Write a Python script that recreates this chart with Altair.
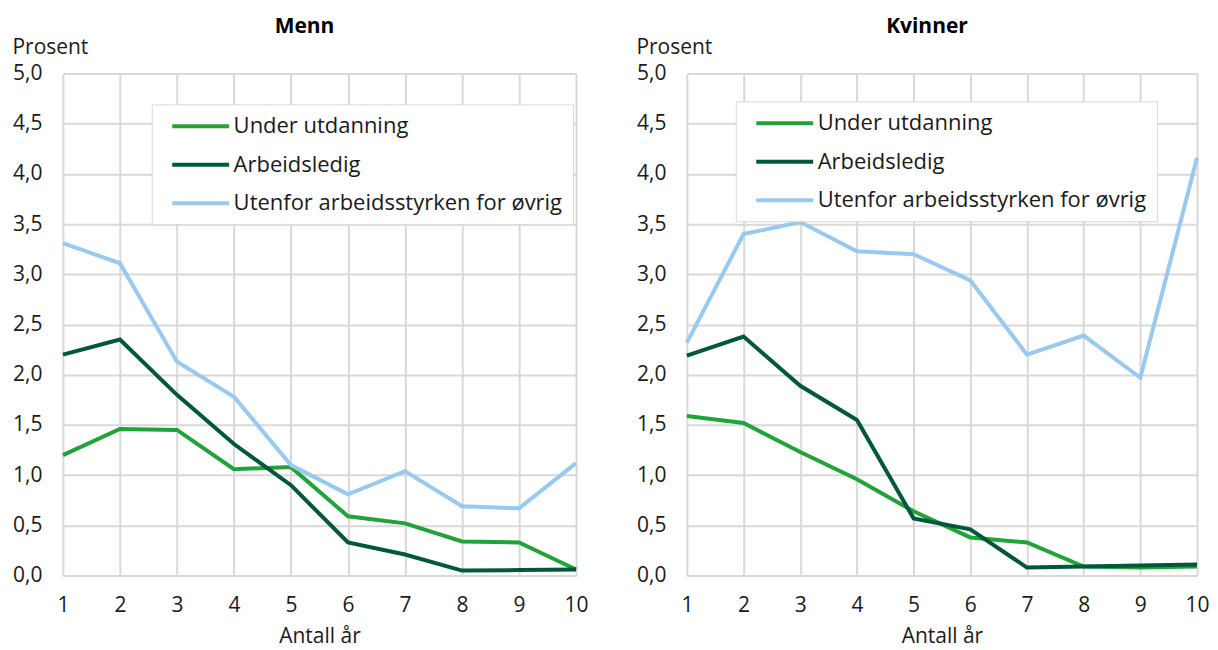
import altair as alt
import pandas as pd

years = list(range(1, 11))
series = ["Under utdanning", "Arbeidsledig", "Utenfor arbeidsstyrken for øvrig"]
colors = ["#22a339", "#00573b", "#98c9ee"]

menn_under = [1.20, 1.46, 1.45, 1.06, 1.08, 0.59, 0.52, 0.34, 0.33, 0.06]
menn_arb = [2.20, 2.35, 1.80, 1.31, 0.90, 0.33, 0.21, 0.05, 0.055, 0.06]
menn_utenfor = [3.31, 3.11, 2.13, 1.78, 1.10, 0.81, 1.04, 0.69, 0.67, 1.12]

kv_under = [1.59, 1.52, 1.23, 0.96, 0.64, 0.38, 0.33, 0.09, 0.08, 0.09]
kv_arb = [2.19, 2.38, 1.89, 1.55, 0.57, 0.46, 0.08, 0.09, 0.10, 0.11]
kv_utenfor = [2.32, 3.40, 3.52, 3.23, 3.20, 2.94, 2.20, 2.39, 1.97, 4.16]

y_ticks = [0, 0.5, 1, 1.5, 2, 2.5, 3, 3.5, 4, 4.5, 5]
FONT = "Open Sans"


def make_df(vals):
    rows = []
    for s, v in zip(series, vals):
        for yr, val in zip(years, v):
            rows.append({"year": yr, "value": val, "series": s})
    return pd.DataFrame(rows)


def panel(title, vals, lx, ly, w):
    df = make_df(vals)
    return (
        alt.Chart(df, title=alt.TitleParams(title, fontWeight="bold", fontSize=21, font=FONT,
                                            color="#000", anchor="middle", dx=-15, offset=-1))
        .mark_line(strokeWidth=4)
        .encode(
            x=alt.X("year:Q", scale=alt.Scale(domain=[1, 10], nice=False, zero=False),
                    axis=alt.Axis(values=years, title="Antall år", labelPadding=19,
                                  labelFlush=False, titlePadding=10)),
            y=alt.Y("value:Q", scale=alt.Scale(domain=[0, 5], nice=False),
                    axis=alt.Axis(values=y_ticks, labelPadding=21,
                                  labelExpr="replace(format(datum.value, '.1f'), '.', ',')",
                                  title="Prosent", titleAngle=0, titleX=-51, titleY=-26,
                                  titleAlign="left", titleBaseline="middle")),
            color=alt.Color("series:N", scale=alt.Scale(domain=series, range=colors),
                            legend=alt.Legend(orient="none", legendX=lx, legendY=ly, title=None,
                                              symbolType="M-2.85,0H2.85", symbolStrokeWidth=4,
                                              symbolSize=400, labelFontSize=22, labelFont=FONT,
                                              labelColor="#1a1a1a", labelLimit=600,
                                              fillColor="white", strokeColor="#d9d9d9",
                                              padding=10, rowPadding=15.5, labelOffset=21,
                                              symbolOffset=27)),
            order=alt.Order("year:Q"),
        )
        .properties(width=w, height=503)
    )


left = panel("Menn", [menn_under, menn_arb, menn_utenfor], 89, 31, 514)
right = panel("Kvinner", [kv_under, kv_arb, kv_utenfor], 49, 28, 511)

chart = (
    alt.hconcat(left, right, spacing=47)
    .resolve_scale(color="independent")
    .resolve_legend(color="independent")
    .properties(padding={"left": 4, "right": 0, "top": 8, "bottom": 2})
    .configure_view(stroke=None)
    .configure_axis(grid=True, gridColor="#d9d9d9", gridWidth=2, domain=False, ticks=False,
                    labelFont=FONT, labelFontSize=21, labelColor="#1a1a1a",
                    titleFont=FONT, titleFontSize=21, titleColor="#1a1a1a", titleFontWeight="normal")
    .configure_axisX(domain=True, domainColor="#d9d9d9", domainWidth=2)
)

chart.save("out.html", embed_options={"renderer": "svg", "actions": False})
